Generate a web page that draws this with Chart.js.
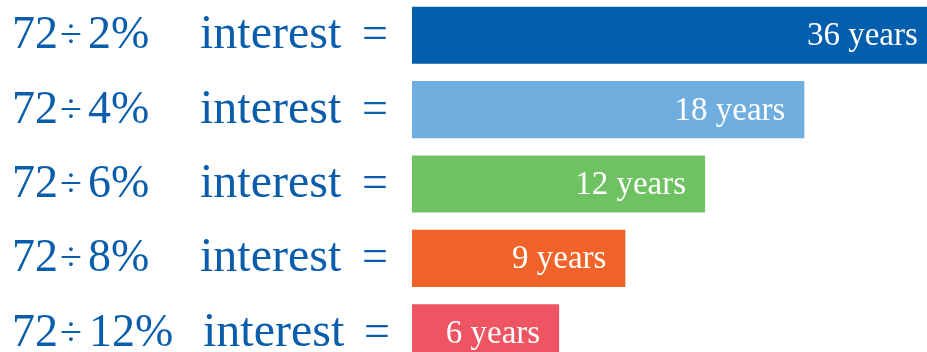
<!DOCTYPE html>
<html>
<head>
<meta charset="utf-8">
<script src="https://cdn.jsdelivr.net/npm/chart.js@4/dist/chart.umd.min.js"></script>
<style>
  html, body { margin: 0; padding: 0; background: #ffffff; overflow: hidden; }
  #wrap { position: absolute; left: 0; top: -2px; width: 927px; height: 372px; }
</style>
</head>
<body>
<div id="wrap"><canvas id="c"></canvas></div>
<script>
// Category pieces
const rates = ['2%', '4%', '6%', '8%', '12%'];
const categories = ['72 ÷ 2% interest =', '72 ÷ 4% interest =', '72 ÷ 6% interest =', '72 ÷ 8% interest =', '72 ÷ 12% interest ='];
// Years printed on each bar
const years = [36, 18, 12, 9, 6];
// Drawn bar lengths (relative units, 6-year bar = 6)
const barLength = [21.4, 16.0, 11.95, 8.7, 6];
const barColors = ['#035EAE', '#6FAEDE', '#6FC262', '#F26329', '#EF5462'];
const textBlue = '#0A5DAB';

const labelPlugin = {
  id: 'labels',
  afterDatasetsDraw(chart) {
    const ctx = chart.ctx;
    const meta = chart.getDatasetMeta(0);
    ctx.save();
    meta.data.forEach((bar, i) => {
      const y = bar.y;
      const base = y + 13;
      const longRate = rates[i].length > 2;
      ctx.fillStyle = textBlue;
      ctx.textBaseline = 'alphabetic';
      ctx.textAlign = 'left';
      ctx.font = '46px "Liberation Serif", "Times New Roman", serif';
      ctx.fillText('72', 12, base);
      ctx.fillText(rates[i], longRate ? 89 : 88, base);
      ctx.font = '48px "Liberation Serif", "Times New Roman", serif';
      ctx.fillText('interest', longRate ? 203 : 200, base);
      ctx.font = '46px "Liberation Serif", "Times New Roman", serif';
      ctx.fillText('=', longRate ? 364 : 362, base);
      ctx.font = '40px "Liberation Serif", "Times New Roman", serif';
      ctx.textAlign = 'center';
      ctx.fillText('÷', 71, base - 1);
      // value label
      ctx.fillStyle = '#ffffff';
      ctx.font = '33px "Liberation Serif", "Times New Roman", serif';
      ctx.textAlign = 'right';
      ctx.fillText(years[i] + ' years', bar.x - 19, y + 10);
    });
    ctx.restore();
  }
};

new Chart(document.getElementById('c'), {
  type: 'bar',
  data: {
    labels: categories,
    datasets: [{
      data: barLength,
      backgroundColor: barColors,
      borderWidth: 0,
      categoryPercentage: 1.0,
      barPercentage: 0.768
    }]
  },
  options: {
    indexAxis: 'y',
    responsive: true,
    maintainAspectRatio: false,
    animation: false,
    layout: { padding: { left: 412, right: 0, top: 0, bottom: 0 } },
    plugins: { legend: { display: false }, tooltip: { enabled: false } },
    scales: {
      x: { display: false, min: 0, max: 21, grid: { display: false } },
      y: { display: false, grid: { display: false } }
    }
  },
  plugins: [labelPlugin]
});
</script>
</body>
</html>
